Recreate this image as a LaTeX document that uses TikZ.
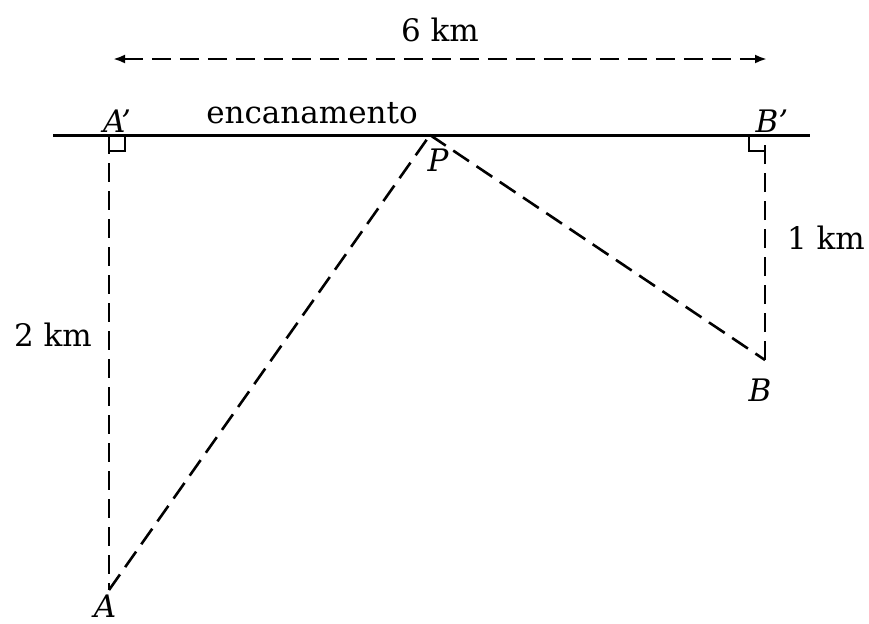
\documentclass[tikz,border=0pt]{standalone}
\usepackage{fontspec}
\setmainfont{DejaVu Serif}
\usepackage{tikz}
\usetikzlibrary{arrows.meta, positioning, calc}

\begin{document}
\begin{tikzpicture}[x=0.5pt, y=-0.5pt,
    pipe/.style={line width=1.5pt},
    guide/.style={line width=1.3pt, dash pattern=on 9.5pt off 4.5pt},
    lbl/.style={font=\fontsize{15.5}{18}\selectfont, inner sep=0pt},
    pt/.style={font=\fontsize{15.5}{18}\selectfont\itshape, inner sep=0pt}]
    % Frame
    \useasboundingbox (0,0) rectangle (869,623);

    % Points
    \coordinate (Ap)    at (109,135);
    \coordinate (Bp)    at (765,135);
    \coordinate (P)     at (430,135);
    \coordinate (A)     at (109,590);
    \coordinate (B)     at (765,360);
    \coordinate (pipeL) at (53,135);
    \coordinate (pipeR) at (810,135);
    \coordinate (arrL)  at (113,59);
    \coordinate (arrR)  at (767,59);

    % Pipe (encanamento)
    \draw[pipe] (pipeL) -- (pipeR);

    % Right angles
    \draw[line width=1.1pt] (Ap) ++(16,0) -- ++(0,16) -- ++(-16,0);
    \draw[line width=1.1pt] (Bp) ++(-16,0) -- ++(0,16) -- ++(16,0);

    % Dashed paths
    \draw[guide] (Ap) -- (A);
    \draw[guide] (A) -- (P);
    \draw[guide] (P) -- (B);
    \draw[guide] (B) -- (Bp);

    % Distance 6 km
    \draw[guide, {Latex[length=6pt,width=4.5pt]}-{Latex[length=6pt,width=4.5pt]}] (arrL) -- (arrR);

    % Labels
    \node[lbl] (dist)   at (440,30)  {6 km};
    \node[lbl] (pipelb) at (312,113) {encanamento};
    \node[lbl] (dA)     at (53,335)  {2 km};
    \node[lbl] (dB)     at (826,238) {1 km};
    \node[pt]  (lAp)    at (117,121) {A’};
    \node[pt]  (lBp)    at (772,121) {B’};
    \node[pt]  (lP)     at (438,160) {P};
    \node[pt]  (lA)     at (105,606) {A};
    \node[pt]  (lB)     at (760,390) {B};
\end{tikzpicture}
\end{document}
